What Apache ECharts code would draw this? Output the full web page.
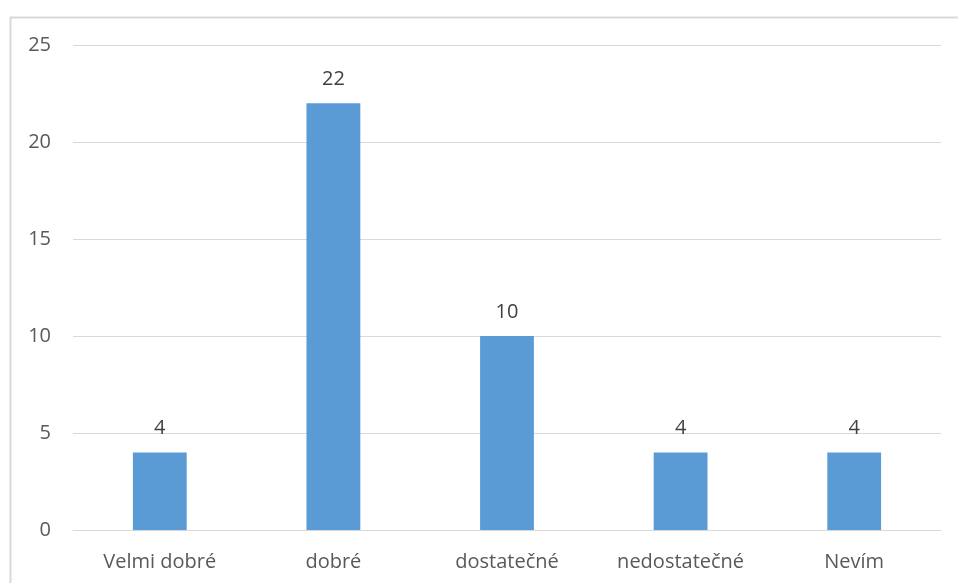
<!DOCTYPE html>
<html><head><meta charset="utf-8">
<script src="https://cdn.jsdelivr.net/npm/echarts@6/dist/echarts.min.js"></script>
<style>html,body{margin:0;padding:0;background:#fff;}#c{width:958px;height:583px;}</style>
</head><body><div id="c"></div>
<script>
const categories = ["Velmi dobré", "dobré", "dostatečné", "nedostatečné", "Nevím"];
const values = [4, 22, 10, 4, 4];
const yTicks = [0, 5, 10, 15, 20, 25];

const chart = echarts.init(document.getElementById('c'), null, {renderer: 'canvas'});
const font = '"Open Sans", "Noto Sans", sans-serif';
chart.setOption({
  animation: false,
  backgroundColor: '#ffffff',
  graphic: [{
    type: 'rect', left: 8, top: 15, shape: {width: 960, height: 580},
    style: {fill: 'none', stroke: '#d9d9d9', lineWidth: 2}, z: -1
  }],
  grid: {left: 73, right: 17, top: 45, bottom: 53, containLabel: false},
  xAxis: {
    type: 'category', data: categories,
    axisLine: {show: true, lineStyle: {color: '#d9d9d9', width: 1}},
    axisTick: {show: false},
    axisLabel: {color: '#595959', fontSize: 20, fontFamily: font, margin: 22}
  },
  yAxis: {
    type: 'value', min: yTicks[0], max: yTicks[yTicks.length - 1], interval: 5,
    axisLine: {show: false}, axisTick: {show: false},
    splitLine: {lineStyle: {color: '#d9d9d9', width: 1}},
    axisLabel: {color: '#595959', fontSize: 20, fontFamily: font, margin: 22}
  },
  series: [{
    type: 'bar', data: values, barWidth: '31%',
    itemStyle: {color: '#5b9bd5'},
    label: {show: true, position: 'top', distance: 14, color: '#404040', fontSize: 20, fontFamily: font}
  }]
});
</script></body></html>
